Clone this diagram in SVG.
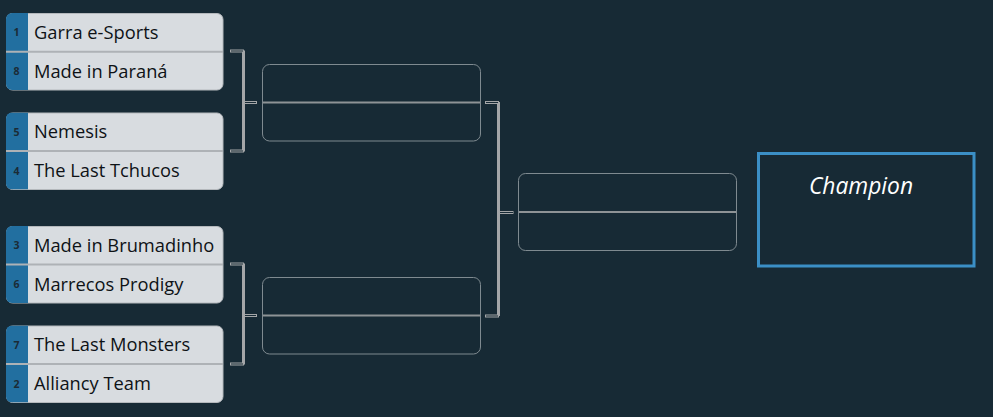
<svg xmlns="http://www.w3.org/2000/svg" width="993" height="417" viewBox="0 0 993 417">
<style>
.card{fill:#d8dce0;stroke:#b4b8bc;stroke-width:1}
.strip{fill:#226fa0}
.div{stroke:#aeb2b6;stroke-width:2}
.name{font-family:"Open Sans","Noto Sans",sans-serif;font-size:18.3px;fill:#0e1216}
.seed{font-family:"Open Sans","Noto Sans",sans-serif;font-size:10.5px;font-weight:bold;fill:#1b2b36;text-anchor:middle}
.mbox{fill:none;stroke:#7f8a90;stroke-width:1}
.mdiv{stroke:#8e9396;stroke-width:2}
.vline{stroke:#a4a6a8;stroke-width:3;fill:none}
.tick{fill:#172a35;stroke:#a4a6a8;stroke-width:1}
</style>
<defs>
<clipPath id="c1"><rect x="6" y="13" width="217" height="77" rx="6"/></clipPath>
<clipPath id="c2"><rect x="6" y="112.5" width="217" height="77" rx="6"/></clipPath>
<clipPath id="c3"><rect x="6" y="226" width="217" height="77" rx="6"/></clipPath>
<clipPath id="c4"><rect x="6" y="325.5" width="217" height="77" rx="6"/></clipPath>
</defs>
<rect width="993" height="417" fill="#172a35"/>

<g id="match1">
<rect class="card" x="6.5" y="13.5" width="216.5" height="76.5" rx="6"/>
<rect class="strip" x="6" y="13" width="22" height="77" clip-path="url(#c1)"/>
<line class="div" x1="6" y1="51.8" x2="223" y2="51.8"/>
<text class="seed" x="16.5" y="36">1</text>
<text class="name" x="34" y="38.5">Garra e-Sports</text>
<text class="seed" x="16.5" y="75">8</text>
<text class="name" x="34" y="77.5">Made in Paraná</text>
</g>

<g id="match2">
<rect class="card" x="6.5" y="113" width="216.5" height="76.5" rx="6"/>
<rect class="strip" x="6" y="112.5" width="22" height="77" clip-path="url(#c2)"/>
<line class="div" x1="6" y1="151" x2="223" y2="151"/>
<text class="seed" x="16.5" y="135.5">5</text>
<text class="name" x="34" y="138">Nemesis</text>
<text class="seed" x="16.5" y="174.5">4</text>
<text class="name" x="34" y="177">The Last Tchucos</text>
</g>

<g id="match3">
<rect class="card" x="6.5" y="226.5" width="216.5" height="76.5" rx="6"/>
<rect class="strip" x="6" y="226" width="22" height="77" clip-path="url(#c3)"/>
<line class="div" x1="6" y1="264.5" x2="223" y2="264.5"/>
<text class="seed" x="16.5" y="249">3</text>
<text class="name" x="34" y="251.5">Made in Brumadinho</text>
<text class="seed" x="16.5" y="288">6</text>
<text class="name" x="34" y="290.5">Marrecos Prodigy</text>
</g>

<g id="match4">
<rect class="card" x="6.5" y="326" width="216.5" height="76.5" rx="6"/>
<rect class="strip" x="6" y="325.5" width="22" height="77" clip-path="url(#c4)"/>
<line class="div" x1="6" y1="364" x2="223" y2="364"/>
<text class="seed" x="16.5" y="348.5">7</text>
<text class="name" x="34" y="351">The Last Monsters</text>
<text class="seed" x="16.5" y="387.5">2</text>
<text class="name" x="34" y="390">Alliancy Team</text>
</g>

<g id="semi1">
<rect class="mbox" x="262.5" y="64.5" width="218" height="76.5" rx="7"/>
<line class="mdiv" x1="263" y1="102.5" x2="480" y2="102.5"/>
</g>
<g id="semi2">
<rect class="mbox" x="262.5" y="277.5" width="218" height="76.5" rx="7"/>
<line class="mdiv" x1="263" y1="315.5" x2="480" y2="315.5"/>
</g>
<g id="final">
<rect class="mbox" x="518.5" y="173.5" width="218" height="77" rx="7"/>
<line class="mdiv" x1="519" y1="212" x2="736" y2="212"/>
</g>
<g id="champion">
<rect x="758.5" y="153.5" width="215.5" height="112.5" fill="none" stroke="#3b8fc6" stroke-width="3"/>
<text x="861" y="193.5" text-anchor="middle" font-family="'Open Sans','Noto Sans',sans-serif" font-style="italic" font-size="22.8" fill="#ffffff">Champion</text>
</g>

<g id="connectors">
<path class="vline" d="M243.5 50.5 V151.5"/>
<rect class="tick" x="230.5" y="50" width="13" height="2"/>
<rect class="tick" x="230.5" y="150" width="13" height="2"/>
<rect class="tick" x="245" y="101.5" width="11.5" height="2"/>

<path class="vline" d="M243.5 263.5 V364.5"/>
<rect class="tick" x="230.5" y="263" width="13" height="2"/>
<rect class="tick" x="230.5" y="363" width="13" height="2"/>
<rect class="tick" x="245" y="314.5" width="11.5" height="2"/>

<path class="vline" d="M498.5 102 V316"/>
<rect class="tick" x="485.5" y="101.5" width="13" height="2"/>
<rect class="tick" x="485.5" y="315" width="13" height="2"/>
<rect class="tick" x="500" y="211.5" width="13" height="2"/>
</g>
</svg>
